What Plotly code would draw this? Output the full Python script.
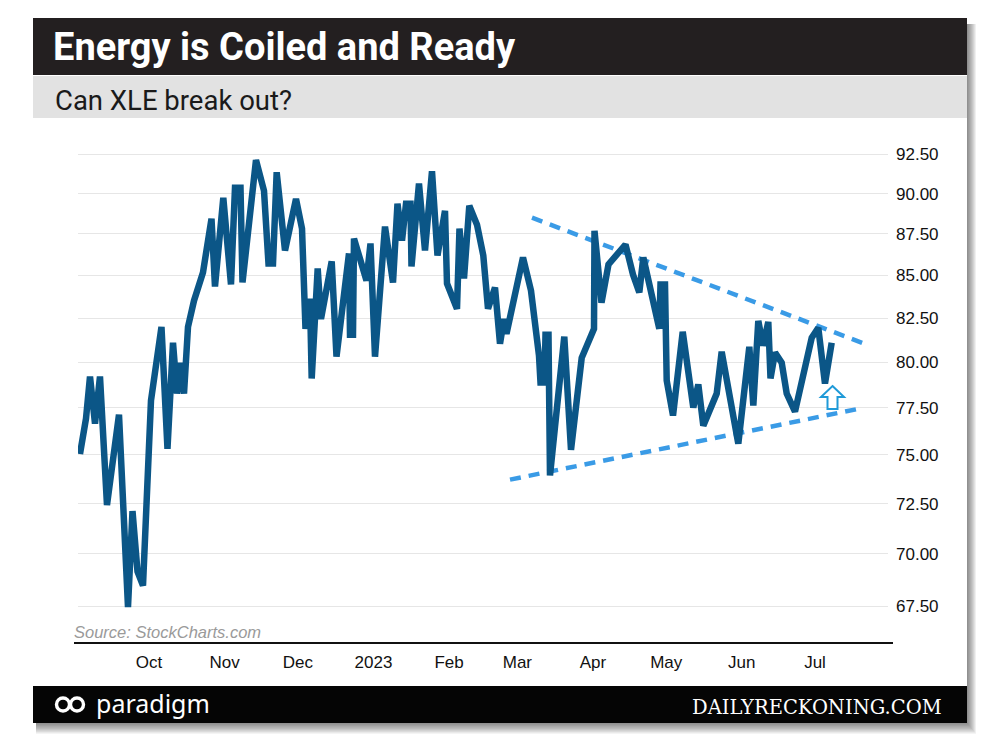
import plotly.graph_objects as go
import pandas as pd

W, H = 1000, 755

# ---------------- data ----------------
# trading-day vertices: days since 2022-10-01, XLE close
day_offsets = [
    -28.28, -25.82, -24.18, -22.13, -20.09, -17.22, -12.30, -8.61, -6.76, -4.71,
    -2.46, -0.82, 0.82, 5.12, 7.58, 9.84, 11.48, 12.91, 14.35, 15.99,
    18.45, 22.13, 25.62, 27.05, 30.46, 33.61, 35.25, 37.51, 38.33, 43.86,
    47.14, 48.98, 50.83, 52.34, 55.75, 60.26, 62.72, 64.15, 65.99, 66.69,
    69.15, 70.50, 74.89, 76.86, 81.98, 82.39, 83.62, 84.03, 89.15, 90.79,
    92.64, 96.74, 100.02, 101.86, 103.71, 105.35, 107.19, 107.60, 110.67, 113.13,
    116.00, 118.26, 121.33, 122.15, 126.25, 127.27, 129.12, 131.29, 134.45, 137.03,
    138.96, 141.83, 143.88, 145.52, 146.54, 153.30, 156.58, 159.86, 160.48, 162.12,
    162.53, 163.76, 164.37, 170.23, 172.98, 177.37, 182.41, 182.61, 185.48, 188.35,
    195.32, 198.39, 200.98, 202.62, 207.41, 209.18, 209.67, 211.51, 212.21, 214.79,
    218.77, 223.11, 225.16, 227.21, 232.70, 234.75, 241.56, 246.07, 247.71, 249.75,
    251.68, 253.85, 254.76, 256.60, 259.35, 261.40, 264.80, 268.20, 271.65, 274.35,
    277.09, 279.84,
]
prices = [
    75.05, 76.93, 79.22, 76.66, 79.22, 72.42, 77.14, 67.45, 72.12, 69.14,
    68.47, 74.19, 77.90, 82.01, 75.32, 81.11, 78.28, 79.98, 78.28, 82.01,
    83.52, 85.18, 88.44, 84.35, 89.74, 84.47, 90.37, 90.37, 84.59, 92.13,
    90.18, 85.72, 85.72, 91.35, 86.50, 89.67, 87.83, 81.90, 83.64, 79.11,
    85.42, 82.46, 85.84, 80.32, 86.32, 81.56, 81.56, 87.22, 84.70, 86.92,
    80.32, 87.95, 84.59, 89.37, 87.10, 89.37, 89.37, 85.54, 90.63, 86.50,
    91.41, 86.20, 88.93, 84.53, 83.05, 87.83, 84.82, 89.24, 88.07, 86.20,
    83.05, 84.29, 81.05, 82.46, 81.62, 86.08, 84.11, 80.38, 78.89, 78.89,
    81.56, 81.56, 73.94, 81.45, 75.27, 80.26, 81.90, 87.70, 83.40, 85.66,
    86.86, 85.06, 84.00, 86.08, 83.05, 81.90, 84.47, 84.47, 79.00, 77.09,
    81.73, 77.52, 78.78, 76.55, 78.28, 80.60, 75.59, 80.88, 77.63, 82.35,
    80.94, 82.29, 79.11, 80.55, 79.98, 78.28, 77.30, 79.38, 81.39, 81.95,
    78.83, 81.11,
]

upper_trend_days = [157.0, 294.3]
upper_trend_prices = [88.50, 81.00]
lower_trend_days = [147.98, 290.75]
lower_trend_prices = [73.72, 77.45]

month_ticks = ["2022-10-01", "2022-11-01", "2022-12-01", "2023-01-01", "2023-02-01",
               "2023-03-01", "2023-04-01", "2023-05-01", "2023-06-01", "2023-07-01"]
month_labels = ["Oct", "Nov", "Dec", "2023", "Feb", "Mar", "Apr", "May", "Jun", "Jul"]
price_ticks = [67.5, 70, 72.5, 75, 77.5, 80, 82.5, 85, 87.5, 90, 92.5]
price_labels = [f"{v:.2f}" for v in price_ticks]

title = "Energy is Coiled and Ready"
subtitle = "Can XLE break out?"
source = "Source: StockCharts.com"

# ---------------- helpers ----------------
BASE = pd.Timestamp("2022-10-01")


def to_dates(days):
    return [BASE + pd.Timedelta(days=d) for d in days]


def px(x):
    return x / W


def py(y):
    return 1 - y / H


LINE_BLUE = "#0b5687"
TREND_BLUE = "#3a9be6"

fig = go.Figure()
fig.add_trace(go.Scatter(x=to_dates(upper_trend_days), y=upper_trend_prices, mode="lines",
                         line=dict(color=TREND_BLUE, width=4.5, dash="11px,8px"), hoverinfo="skip"))
fig.add_trace(go.Scatter(x=to_dates(lower_trend_days), y=lower_trend_prices, mode="lines",
                         line=dict(color=TREND_BLUE, width=4.5, dash="11px,8px"), hoverinfo="skip"))
fig.add_trace(go.Scatter(x=to_dates(day_offsets), y=prices, mode="lines",
                         line=dict(color=LINE_BLUE, width=6.5), hoverinfo="skip"))

shapes = []
# drop shadow of the card
for i in range(1, 10):
    shapes.append(dict(type="rect", xref="paper", yref="paper", layer="below",
                       x0=px(36), x1=px(967 + i), y0=py(723 + i * 1.2), y1=py(24),
                       fillcolor="rgba(0,0,0,0.06)", line=dict(width=0)))
# card
shapes.append(dict(type="rect", xref="paper", yref="paper", layer="below",
                   x0=px(33), x1=px(967), y0=py(723), y1=py(18),
                   fillcolor="white", line=dict(width=0)))
# title bar
shapes.append(dict(type="rect", xref="paper", yref="paper", layer="below",
                   x0=px(33), x1=px(967), y0=py(75), y1=py(18),
                   fillcolor="#231f20", line=dict(width=0)))
# subtitle bar
shapes.append(dict(type="rect", xref="paper", yref="paper", layer="below",
                   x0=px(33), x1=px(967), y0=py(118), y1=py(76),
                   fillcolor="#e2e2e2", line=dict(width=0)))
# footer bar
shapes.append(dict(type="rect", xref="paper", yref="paper", layer="below",
                   x0=px(33), x1=px(967), y0=py(723), y1=py(686),
                   fillcolor="#050505", line=dict(width=0)))
# x axis base line
shapes.append(dict(type="line", xref="paper", yref="paper", layer="above",
                   x0=px(74), x1=px(893), y0=py(643), y1=py(643),
                   line=dict(color="#111111", width=2)))
# paradigm logo (two rings)
for cx in (63, 77):
    shapes.append(dict(type="circle", xref="paper", yref="paper", layer="above",
                       x0=px(cx - 6.5), x1=px(cx + 6.5), y0=py(711), y1=py(698),
                       line=dict(color="white", width=3.4)))
# hollow up arrow
arrow_pts = [(832.5, 386), (844, 397), (837.5, 397), (837.5, 409),
             (827.5, 409), (827.5, 397), (821, 397)]
path = "M " + " L ".join(f"{px(x):.4f},{py(y):.4f}" for x, y in arrow_pts) + " Z"
shapes.append(dict(type="path", xref="paper", yref="paper", layer="above", path=path,
                   fillcolor="white", line=dict(color="#1f9ad8", width=2)))

annotations = [
    dict(text=f"<b>{title}</b>", x=px(51), y=py(47), xref="paper", yref="paper",
         xanchor="left", yanchor="middle", showarrow=False,
         font=dict(family="Roboto", size=38, color="white")),
    dict(text=subtitle, x=px(53), y=py(100), xref="paper", yref="paper",
         xanchor="left", yanchor="middle", showarrow=False,
         font=dict(family="Roboto", size=27.5, color="#1a1a1a")),
    dict(text=f"<i>{source}</i>", x=px(72), y=py(632), xref="paper", yref="paper",
         xanchor="left", yanchor="middle", showarrow=False,
         font=dict(family="Liberation Sans", size=16.5, color="#9a9a9a")),
    dict(text="paradigm", x=px(94), y=py(703), xref="paper", yref="paper",
         xanchor="left", yanchor="middle", showarrow=False,
         font=dict(family="Noto Sans", size=25, color="white")),
    dict(text="DAILYRECKONING.COM", x=px(944), y=py(707), xref="paper", yref="paper",
         xanchor="right", yanchor="middle", showarrow=False,
         font=dict(family="DejaVu Serif", size=19.5, color="white")),
]

x_start = BASE + pd.Timedelta(days=-29.10)
x_end = BASE + pd.Timedelta(days=302.92)

fig.update_layout(
    width=W, height=H,
    margin=dict(l=0, r=0, t=0, b=0),
    paper_bgcolor="white", plot_bgcolor="rgba(0,0,0,0)",
    showlegend=False,
    shapes=shapes, annotations=annotations,
    xaxis=dict(domain=[px(78), px(888)], type="date", range=[x_start, x_end],
               tickvals=month_ticks, ticktext=month_labels, showgrid=False,
               zeroline=False, showline=False, ticks="",
               ticklabelstandoff=6,
               tickfont=dict(family="Liberation Sans", size=17, color="#111111")),
    yaxis=dict(domain=[py(644), py(135)], type="log", range=[1.817791, 1.97199],
               side="right", tickvals=price_ticks, ticktext=price_labels,
               showgrid=True, gridcolor="#e6e6e6", gridwidth=1,
               zeroline=False, showline=False, ticks="",
               ticklabelstandoff=7,
               tickfont=dict(family="Liberation Sans", size=17, color="#111111")),
)

fig.write_html("out.html", config={"displayModeBar": False},
               post_script="document.body.style.margin='0';")
